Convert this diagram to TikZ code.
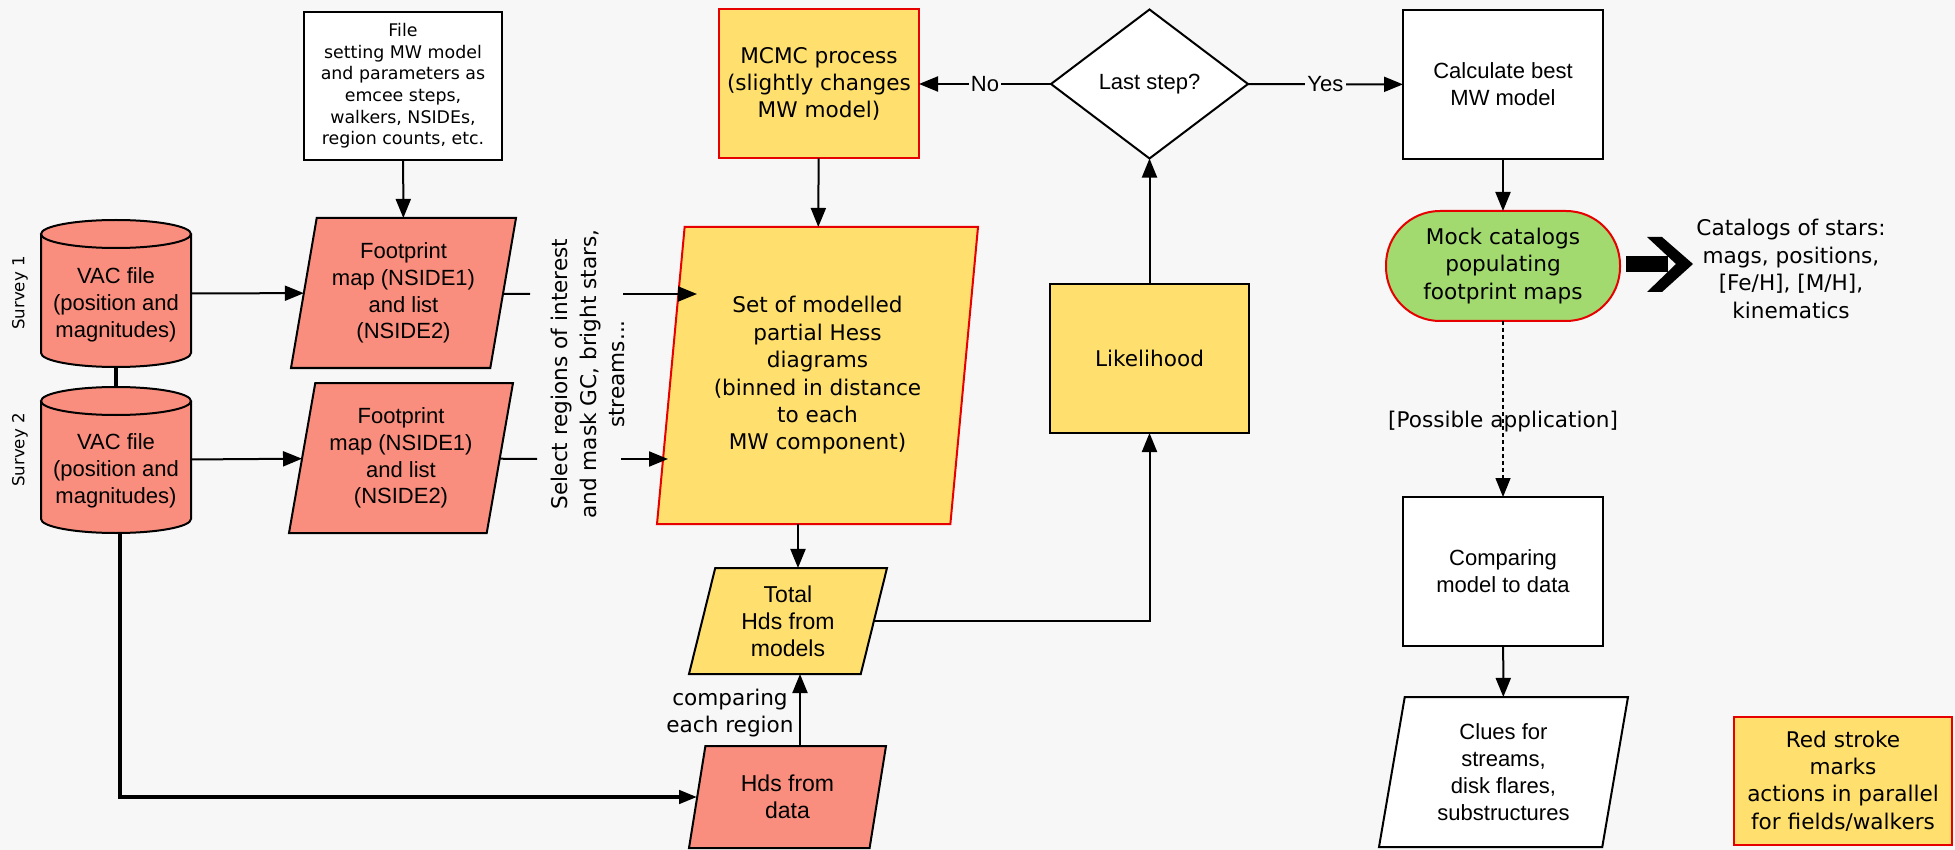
\documentclass[tikz,border=0pt]{standalone}
\usepackage{fontspec}
\setmainfont{Liberation Sans}
\newfontfamily\dvfont{DejaVu Sans}
\usetikzlibrary{shapes.geometric,arrows.meta,calc}
\definecolor{bg}{HTML}{F7F7F7}
\definecolor{salmon}{HTML}{F98E7E}
\definecolor{ylw}{HTML}{FFE06E}
\definecolor{grn}{HTML}{A2DA70}
\definecolor{rstroke}{HTML}{E60000}
\newcommand\drawcyl[4]{%
  \fill[salmon] (#1-#4,#2+14) rectangle (#1+#4,#3-14);
  \fill[salmon] (#1,#3-14) ellipse[x radius=#4,y radius=14];
  \draw[line width=1pt] (#1-#4,#2+14) -- (#1-#4,#3-14)
     arc[start angle=180,end angle=0,x radius=#4,y radius=14] -- (#1+#4,#2+14);
  \filldraw[fill=salmon,line width=1pt] (#1,#2+14) ellipse[x radius=#4,y radius=14];
}
\tikzset{
  fA/.style={font=\fontsize{11pt}{13.4pt}\selectfont},
  fAb/.style={font=\fontsize{11.5pt}{13.6pt}\selectfont},
  fB/.style={font=\dvfont\fontsize{10.8pt}{13.7pt}\selectfont},
  box/.style={draw=black, line width=1pt, inner sep=0pt, outer sep=0pt, align=center},
  para/.style={box, trapezium, trapezium stretches body},
  arr/.style={line width=1pt, -{Triangle[length=9.5pt,width=7.5pt]}},
  thickarr/.style={line width=2pt, -{Triangle[length=9pt,width=6.5pt]}},
  lbl/.style={fill=bg, inner sep=1.2pt, fA},
}
\begin{document}
\begin{tikzpicture}[x=0.5pt,y=-0.5pt]
\useasboundingbox (0,0) rectangle (1955,850);
\fill[bg] (0,0) rectangle (1955,850);

% cylinders
\drawcyl{116}{220}{367}{75}
\drawcyl{116}{387}{533}{75}
\node[inner sep=0pt, outer sep=0pt, minimum width=75pt, minimum height=73.5pt] (vac1) at (116,293.5) {};
\node[inner sep=0pt, outer sep=0pt, minimum width=75pt, minimum height=73pt] (vac2) at (116,460) {};
\node[fA, align=center] (vac1t) at (116,305) {VAC file\\(position and\\magnitudes)};
\node[fA, align=center] (vac2t) at (116,471) {VAC file\\(position and\\magnitudes)};

\node[rotate=90, font=\dvfont\fontsize{8.3pt}{10pt}\selectfont] (s1) at (20,293) {Survey 1};
\node[rotate=90, font=\dvfont\fontsize{8.3pt}{10pt}\selectfont] (s2) at (20,450) {Survey 2};

% config file
\node[box, fill=white, minimum width=99pt, minimum height=74pt,
      font=\dvfont\fontsize{8.7pt}{10.8pt}\selectfont] (cfg) at (403,86)
  {File\\setting MW model\\and parameters as\\emcee steps,\\walkers, NSIDEs,\\region counts, etc.};

% footprints
\node[para, trapezium left angle=75.7, trapezium right angle=104.3, fill=salmon,
      minimum width=112.5pt, minimum height=75pt, fA] (fp1) at (403.5,293)
  {Footprint\\map (NSIDE1)\\and list\\(NSIDE2)};
\node[para, trapezium left angle=75.4, trapezium right angle=104.6, fill=salmon,
      minimum width=112pt, minimum height=75pt, fA] (fp2) at (401,458)
  {Footprint\\map (NSIDE1)\\and list\\(NSIDE2)};

% select text
\node[rotate=90, align=center, font=\dvfont\fontsize{10.8pt}{14.3pt}\selectfont] (sel) at (588,374)
  {Select regions of interest\\and mask GC, bright stars,\\streams...};

% MCMC
\node[box, draw=rstroke, fill=ylw, minimum width=100pt, minimum height=74.5pt, fB] (mcmc) at (819,84)
  {MCMC process\\(slightly changes\\MW model)};

% Set
\node[para, draw=rstroke, trapezium left angle=80.07, trapezium right angle=99.93, fill=ylw,
      minimum width=160.5pt, minimum height=148.5pt, fB] (set) at (817.5,375.5)
  {Set of modelled\\partial Hess\\diagrams\\(binned in distance\\to each\\MW component)};

% Total Hds
\node[para, trapezium left angle=69.8, trapezium right angle=110.2, fill=ylw,
      minimum width=99pt, minimum height=53pt, fAb] (tot) at (788,621)
  {Total\\Hds from\\models};

% Hds data
\node[para, trapezium left angle=69.6, trapezium right angle=110.4, fill=salmon,
      minimum width=98.5pt, minimum height=51pt, fAb] (hdsd) at (787.5,797)
  {Hds from\\data};
\node[fB, align=center] (cmpl) at (730,713) {comparing\\each region};

% decision
\node[box, diamond, fill=white, minimum width=98.5pt, minimum height=74.5pt, fA] (dia) at (1149.5,84)
  {Last step?};

% likelihood
\node[box, fill=ylw, minimum width=99.5pt, minimum height=74.5pt, fB] (lik) at (1149.5,358.5)
  {Likelihood};

% calculate best
\node[box, fill=white, minimum width=100pt, minimum height=74.5pt, fA] (calc) at (1503,84.5)
  {Calculate best\\MW model};

% mock catalogs
\node[box, draw=rstroke, fill=grn, rounded corners=27pt, minimum width=117pt, minimum height=55pt, fB] (mock) at (1503,266)
  {Mock catalogs\\populating\\footprint maps};

\node[fB, align=center] (cat) at (1791,269)
  {Catalogs of stars:\\mags, positions,\\ {[Fe/H], [M/H],}\\kinematics};

% comparing
\node[box, fill=white, minimum width=100pt, minimum height=74.5pt, fA] (comp) at (1503,571.5)
  {Comparing\\model to data};

% clues
\node[para, trapezium left angle=75.07, trapezium right angle=104.93, fill=white,
      minimum width=124.5pt, minimum height=75pt, fA] (clues) at (1503.5,772)
  {Clues for\\streams,\\disk flares,\\substructures};

% legend
\node[box, draw=rstroke, fill=ylw, minimum width=109pt, minimum height=64pt, fB] (leg) at (1843,781)
  {Red stroke\\marks\\actions in parallel\\for fields/walkers};

% big arrow
\fill[black] (1626,256) rectangle (1668,272);
\fill[black] (1647,237) -- (1662,237) -- (1693,264) -- (1662,292) -- (1647,292) -- (1676,264) -- cycle;

% coordinates
\coordinate (c1a) at (530,294);
\coordinate (c1b) at (623,294);
\coordinate (c1e) at (697,294);
\coordinate (c2a) at (537,459);
\coordinate (c2b) at (621,459);
\coordinate (c2e) at (668,459);
\coordinate (xa) at (798,0);
\coordinate (xb) at (800,0);

% connectors
\draw[line width=1.6pt] (vac1.south) -- (vac2.north);
\draw[arr] (vac1) -- (fp1);
\draw[arr] (vac2) -- (fp2);
\draw[arr] (cfg) -- (fp1);
\draw[line width=1pt] (fp1) -- (c1a);
\draw[arr] (c1b) -- (c1e);
\draw[line width=1pt] (fp2) -- (c2a);
\draw[arr] (c2b) -- (c2e);
\draw[arr] (mcmc) -- (set);
\draw[arr] (set.south -| xa) -- (tot.north -| xa);
\draw[arr] (hdsd.north -| xb) -- (tot.south -| xb);
\draw[thickarr] ([xshift=2pt]vac2.south) |- (hdsd);
\draw[arr] (tot.east) -| (lik.south);
\draw[arr] (lik) -- (dia);
\draw[arr] (dia) -- node[lbl] {No} (mcmc);
\draw[arr] (dia) -- node[lbl] {Yes} (calc);
\draw[arr] (calc) -- (mock);
\draw[line width=0.7pt, dash pattern=on 2.2pt off 1.3pt, -{Triangle[length=9.5pt,width=7.5pt]}] (mock) -- node[pos=0.57, fB] {[Possible application]} (comp);
\draw[arr] (comp) -- (clues);
\end{tikzpicture}
\end{document}
